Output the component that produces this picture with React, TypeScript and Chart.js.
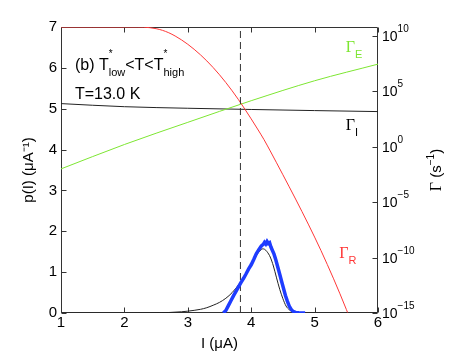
import { useEffect, useRef } from 'react';
import { Chart, registerables } from 'chart.js';

Chart.register(...registerables);

const SANS = '"Liberation Sans", Arial, Helvetica, sans-serif';
const SERIF = '"Liberation Serif", "Times New Roman", serif';

// Axis ticks
const xTicks = [1, 2, 3, 4, 5, 6];
const pTicks = [0, 1, 2, 3, 4, 5, 6, 7];
const gammaExpTicks = [-15, -10, -5, 0, 5, 10];
const gammaExpMin = -15;
const gammaExpMax = 10.8;

// Measured p(I) (blue, thick)
const measI = [3.56, 3.6, 3.64, 3.68, 3.72, 3.76, 3.8, 3.84, 3.88, 3.92, 3.96, 4.0, 4.04, 4.08, 4.12, 4.16, 4.19, 4.21, 4.23, 4.25, 4.27, 4.29, 4.31, 4.33, 4.36, 4.39, 4.42, 4.45, 4.48, 4.51, 4.54, 4.57, 4.6, 4.63, 4.66, 4.7, 4.75, 4.85];
const measP = [0.0, 0.06, 0.18, 0.3, 0.42, 0.53, 0.64, 0.75, 0.85, 0.96, 1.08, 1.18, 1.31, 1.45, 1.55, 1.64, 1.68, 1.73, 1.69, 1.75, 1.7, 1.72, 1.62, 1.55, 1.44, 1.29, 1.12, 0.95, 0.77, 0.6, 0.43, 0.29, 0.17, 0.09, 0.04, 0.015, 0.005, 0.0];

// Calculated p(I) (black, thin)
const calcI = [1.0, 2.0, 2.4, 2.7, 2.9, 3.0, 3.1, 3.2, 3.3, 3.4, 3.5, 3.6, 3.7, 3.8, 3.9, 4.0, 4.05, 4.1, 4.15, 4.18, 4.21, 4.25, 4.3, 4.35, 4.4, 4.45, 4.5, 4.55, 4.6, 4.65, 4.7, 4.75, 4.8, 6.0];
const calcP = [0, 0, 0.004, 0.012, 0.03, 0.045, 0.065, 0.09, 0.13, 0.19, 0.26, 0.36, 0.5, 0.69, 0.92, 1.19, 1.33, 1.45, 1.54, 1.57, 1.56, 1.5, 1.37, 1.15, 0.86, 0.58, 0.35, 0.17, 0.08, 0.03, 0.008, 0.002, 0, 0];

// Rates, log10(Gamma / s^-1)
const rI = [1.0, 1.5, 2.0, 2.2, 2.3, 2.4, 2.5, 2.6, 2.7, 2.8, 2.9, 3.0, 3.1, 3.2, 3.3, 3.4, 3.5, 3.6, 3.7, 3.8, 3.9, 4.0, 4.1, 4.2, 4.3, 4.4, 4.5, 4.6, 4.7, 4.8, 4.9, 5.0, 5.1, 5.2, 5.3, 5.4, 5.5, 5.6];
const logGammaR = [10.8, 10.8, 10.8, 10.8, 10.79, 10.74, 10.65, 10.5, 10.28, 9.99, 9.64, 9.24, 8.79, 8.29, 7.74, 7.14, 6.49, 5.79, 5.04, 4.24, 3.39, 2.51, 1.6, 0.66, -0.38, -1.45, -2.53, -3.62, -4.72, -5.84, -6.98, -8.15, -9.36, -10.62, -11.92, -13.27, -14.67, -16.07];
const eI = [1.0, 2.0, 3.0, 4.0, 5.0, 6.0];
const logGammaE = [-2.0, 0.2, 2.2, 4.15, 5.95, 7.45];
const iI = [1.0, 1.5, 2.0, 3.0, 4.0, 5.0, 6.0];
const logGammaI = [3.89, 3.74, 3.61, 3.47, 3.36, 3.26, 3.17];

// Dashed marker
const dashI = 3.83;

const RED = 'rgb(255,55,55)';
const GREEN = 'rgb(125,230,50)';
const BLUE = 'rgb(30,60,255)';
const BLACK = '#222';

type Seg = { t: string; size: number; dy?: number; serif?: boolean; noAdv?: boolean };

function segWidth(ctx: CanvasRenderingContext2D, segs: Seg[]) {
  let w = 0;
  for (const s of segs) {
    ctx.font = `${s.size}px ${s.serif ? SERIF : SANS}`;
    if (!s.noAdv) w += ctx.measureText(s.t).width;
  }
  return w;
}

function drawRich(ctx: CanvasRenderingContext2D, x: number, y: number, segs: Seg[], color: string) {
  let cx = x;
  ctx.fillStyle = color;
  ctx.textBaseline = 'alphabetic';
  ctx.textAlign = 'left';
  for (const s of segs) {
    ctx.font = `${s.size}px ${s.serif ? SERIF : SANS}`;
    ctx.fillText(s.t, cx, y + (s.dy || 0));
    if (!s.noAdv) cx += ctx.measureText(s.t).width;
  }
}

const boxPlugin = {
  id: 'matlabBox',
  beforeDatasetsDraw(chart: any) {
    const { ctx, chartArea: a, scales } = chart;
    ctx.save();
    ctx.strokeStyle = '#333';
    ctx.lineWidth = 1;
    const l = Math.round(a.left) + 0.5;
    const r = Math.round(a.right) - 0.5;
    const t = Math.round(a.top) + 0.5;
    const b = Math.round(a.bottom) - 0.5;
    ctx.beginPath();
    ctx.rect(l, t, r - l, b - t);
    const L = 5;
    for (const v of xTicks) {
      const px = Math.round(scales.x.getPixelForValue(v)) + 0.5;
      ctx.moveTo(px, b);
      ctx.lineTo(px, b - L);
      ctx.moveTo(px, t);
      ctx.lineTo(px, t + L);
    }
    for (const v of pTicks) {
      const py = Math.round(scales.y.getPixelForValue(v)) + 0.5;
      ctx.moveTo(l, py);
      ctx.lineTo(l + L, py);
    }
    for (const e of gammaExpTicks) {
      const py = Math.round(scales.y2.getPixelForValue(Math.pow(10, e))) + 0.5;
      ctx.moveTo(r, py);
      ctx.lineTo(r - L, py);
    }
    ctx.stroke();
    ctx.restore();
  },
  afterDatasetsDraw(chart: any) {
    const { ctx, scales } = chart;
    const a = chart.chartArea;
    const X = (v: number) => scales.x.getPixelForValue(v);
    const YP = (v: number) => scales.y.getPixelForValue(v);
    const YG = (e: number) => scales.y2.getPixelForValue(Math.pow(10, e));
    ctx.save();

    // right-axis tick labels 10^k with raised exponents
    for (const e of gammaExpTicks) {
      const py = YG(e);
      drawRich(ctx, a.right + 4, py + 5, [
        { t: '10', size: 14 },
        { t: String(e).replace('-', '−'), size: 10, dy: -9 },
      ], '#000');
    }

    drawRich(ctx, X(1.22), YP(5.95), [
      { t: '(b) T', size: 16 },
      { t: '*', size: 10, dy: -13, noAdv: true },
      { t: 'low', size: 11, dy: 6 },
      { t: '<T<T', size: 16 },
      { t: '*', size: 10, dy: -13, noAdv: true },
      { t: 'high', size: 11, dy: 6 },
    ], '#000');
    drawRich(ctx, X(1.22), YP(5.24), [{ t: 'T=13.0 K', size: 16 }], '#000');
    drawRich(ctx, X(5.49), YG(8.58), [{ t: 'Γ', size: 16, serif: true }, { t: 'E', size: 11, dy: 6 }], GREEN);
    drawRich(ctx, X(5.49), YG(1.52), [{ t: 'Γ', size: 16, serif: true }, { t: 'I', size: 11, dy: 6 }], '#000');
    drawRich(ctx, X(5.39), YG(-10.06), [{ t: 'Γ', size: 16, serif: true }, { t: 'R', size: 11, dy: 6 }], RED);

    // right-axis title, reading bottom to top
    const segs: Seg[] = [
      { t: 'Γ', size: 16, serif: true },
      { t: ' (s', size: 15 },
      { t: '−1', size: 10, dy: -7 },
      { t: ')', size: 15 },
    ];
    const w = segWidth(ctx, segs);
    ctx.translate(a.right + 63, (a.top + a.bottom) / 2);
    ctx.rotate(-Math.PI / 2);
    drawRich(ctx, -w / 2, 0, segs, '#000');
    ctx.restore();
  },
};

export default function App() {
  const ref = useRef<HTMLCanvasElement>(null);
  useEffect(() => {
    if (!ref.current) return;
    const pts = (xs: number[], ys: number[]) => xs.map((x, i) => ({ x, y: ys[i] }));
    const gpts = (xs: number[], es: number[]) => xs.map((x, i) => ({ x, y: Math.pow(10, es[i]) }));
    const chart = new Chart(ref.current, {
      type: 'line',
      data: {
        datasets: [
          { data: pts(measI, measP), yAxisID: 'y', borderColor: BLUE, borderWidth: 3.5, pointRadius: 0, tension: 0 },
          { data: pts(calcI, calcP), yAxisID: 'y', borderColor: BLACK, borderWidth: 1, pointRadius: 0, cubicInterpolationMode: 'monotone' },
          { data: [{ x: dashI, y: 0 }, { x: dashI, y: 7 }], yAxisID: 'y', borderColor: '#333', borderWidth: 1, borderDash: [7, 4], pointRadius: 0 },
          { data: gpts(rI, logGammaR), yAxisID: 'y2', borderColor: RED, borderWidth: 1, pointRadius: 0, cubicInterpolationMode: 'monotone' },
          { data: gpts(eI, logGammaE), yAxisID: 'y2', borderColor: GREEN, borderWidth: 1, pointRadius: 0, cubicInterpolationMode: 'monotone' },
          { data: gpts(iI, logGammaI), yAxisID: 'y2', borderColor: BLACK, borderWidth: 1, pointRadius: 0, cubicInterpolationMode: 'monotone' },
        ] as any,
      },
      options: {
        responsive: false,
        animation: false,
        events: [],
        layout: { padding: { top: 27, left: 0, right: 0, bottom: 0 } },
        plugins: { legend: { display: false }, tooltip: { enabled: false } },
        scales: {
          x: {
            type: 'linear',
            min: 1,
            max: 6,
            grid: { display: false, drawTicks: false },
            border: { display: false },
            afterBuildTicks: (s: any) => { s.ticks = xTicks.map((v) => ({ value: v })); },
            afterFit: (s: any) => { s.height = 40; },
            ticks: { color: '#000', padding: 1, font: { family: SANS, size: 15 }, maxRotation: 0 },
            title: { display: true, text: 'I (μA)', color: '#000', font: { family: SANS, size: 15 }, padding: { top: 0, bottom: 0 } },
          },
          y: {
            type: 'linear',
            position: 'left',
            min: 0,
            max: 7,
            grid: { display: false, drawTicks: false },
            border: { display: false },
            afterBuildTicks: (s: any) => { s.ticks = pTicks.map((v) => ({ value: v })); },
            afterFit: (s: any) => { s.width = 61; },
            ticks: { color: '#000', padding: 4, font: { family: SANS, size: 15 } },
            title: { display: true, text: 'p(I) (μA⁻¹)', color: '#000', font: { family: SANS, size: 15 }, padding: { top: 20, bottom: 0 } },
          },
          y2: {
            type: 'logarithmic',
            position: 'right',
            min: Math.pow(10, gammaExpMin),
            max: Math.pow(10, gammaExpMax),
            grid: { display: false, drawTicks: false },
            border: { display: false },
            afterBuildTicks: (s: any) => { s.ticks = gammaExpTicks.map((e) => ({ value: Math.pow(10, e) })); },
            afterFit: (s: any) => { s.width = 91; },
            ticks: { display: false },
          },
        },
      } as any,
      plugins: [boxPlugin],
    });
    return () => chart.destroy();
  }, []);
  return (
    <div style={{ position: 'fixed', left: 0, top: 0, width: 469, height: 353, background: '#fff' }}>
      <canvas ref={ref} width={469} height={353} />
    </div>
  );
}
